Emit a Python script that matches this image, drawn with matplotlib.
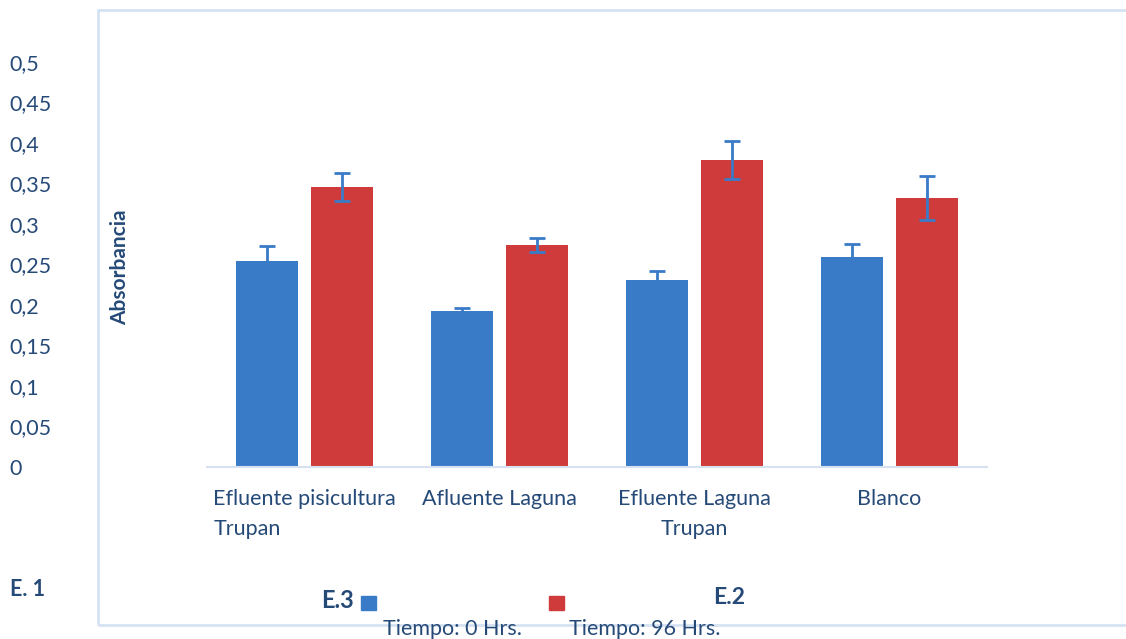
import numpy as np
import matplotlib.pyplot as plt
from matplotlib.patches import Rectangle

plt.rcParams['font.family'] = ['Lato', 'DejaVu Sans']

categories = ['Efluente pisicultura\nTrupan', 'Afluente Laguna',
              'Efluente Laguna\nTrupan', 'Blanco']
t0 = [0.254, 0.192, 0.231, 0.259]
t0_err = [0.019, 0.004, 0.011, 0.016]
t96 = [0.346, 0.274, 0.379, 0.332]
t96_err = [0.017, 0.009, 0.024, 0.027]
yticks = [0, 0.05, 0.1, 0.15, 0.2, 0.25, 0.3, 0.35, 0.4, 0.45, 0.5]
ytick_labels = ['0', '0,05', '0,1', '0,15', '0,2', '0,25', '0,3', '0,35', '0,4', '0,45', '0,5']

txt = '#264a78'
blue = '#3a7bc8'
red = '#cf3b3a'
light = '#d6e2f2'

W, H = 1126, 639
fig = plt.figure(figsize=(W / 100, H / 100), dpi=100)

# outer frame
fig.patches.append(Rectangle((98 / W, 1 - 625 / H), 1.1, (625 - 10) / H,
                             transform=fig.transFigure, fill=False,
                             edgecolor=light, lw=2))

ax = fig.add_axes([207 / W, 1 - 467 / H, 780 / W, (467 - 62) / H])
x = np.arange(len(categories))
w = 0.318
ax.bar(x - 0.19, t0, w, color=blue, edgecolor='none')
ax.bar(x + 0.19, t96, w, color=red, edgecolor='none')
ax.errorbar(x - 0.19, t0, yerr=t0_err, fmt='none', ecolor=blue, elinewidth=2,
            capsize=6, capthick=2)
ax.errorbar(x + 0.19, t96, yerr=t96_err, fmt='none', ecolor=blue, elinewidth=2,
            capsize=6, capthick=2)

ax.set_xlim(-0.5, 3.5)
ax.set_ylim(0, 0.5)
for s in ['top', 'right', 'left']:
    ax.spines[s].set_visible(False)
ax.spines['bottom'].set_color(light)
ax.spines['bottom'].set_linewidth(1.5)

fs = 15.5
ax.set_xticks(x)
ax.set_xticklabels(categories, fontsize=fs, color=txt, linespacing=1.6)
ax.get_xticklabels()[0].set_multialignment('left')
ax.tick_params(axis='x', length=0, pad=16)

ax.set_yticks(yticks)
ax.set_yticklabels(ytick_labels, fontsize=fs, color=txt, ha='left')
ax.tick_params(axis='y', length=0, pad=142)

ax.set_ylabel('Absorbancia', fontsize=15, color=txt, fontweight='bold')
ax.yaxis.set_label_coords((130 - 207) / 780, (467 - 267) / (467 - 62))

# legend
fig.patches.append(Rectangle((361 / W, 1 - 610 / H), 15 / W, 14 / H,
                             transform=fig.transFigure, color=blue))
fig.patches.append(Rectangle((549 / W, 1 - 610 / H), 15 / W, 14 / H,
                             transform=fig.transFigure, color=red))
fig.text(383 / W, 1 - 629 / H, 'Tiempo: 0 Hrs.', fontsize=fs, color=txt, va='center')
fig.text(569 / W, 1 - 629 / H, 'Tiempo: 96 Hrs.', fontsize=fs, color=txt, va='center')

fig.text(10 / W, 1 - 590 / H, 'E. 1', fontsize=15.5, color=txt, fontweight='bold', va='center')
fig.text(321 / W, 1 - 600 / H, 'E.3', fontsize=17, color=txt, fontweight='bold', va='center')
fig.text(713 / W, 1 - 598 / H, 'E.2', fontsize=16.5, color=txt, fontweight='bold', va='center')

fig.savefig('out.png', dpi=100)
